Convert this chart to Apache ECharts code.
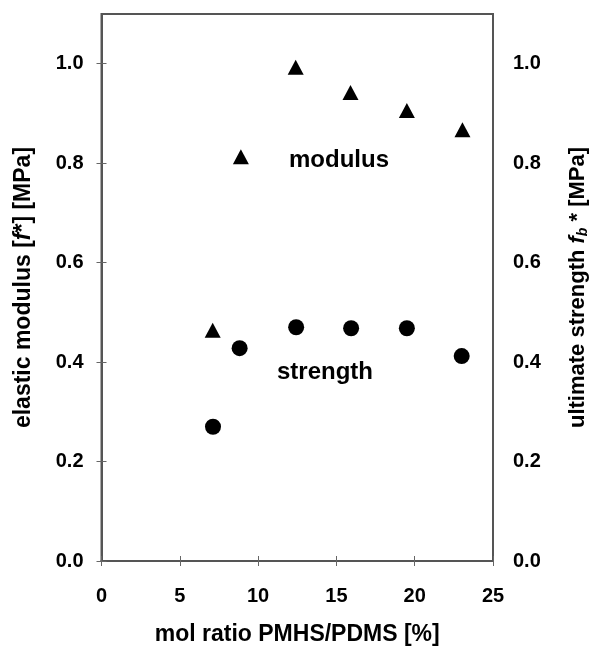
<!DOCTYPE html>
<html>
<head>
<meta charset="utf-8">
<script src="https://cdn.jsdelivr.net/npm/echarts@6/dist/echarts.min.js"></script>
<style>
html,body{margin:0;padding:0;background:#fff;}
#chart{width:589px;height:656px;}
</style>
</head>
<body>
<div id="chart"></div>
<script>
const modulusX = [7.1, 8.9, 12.4, 15.9, 19.5, 23.05];
const modulusY = [0.464, 0.813, 0.993, 0.942, 0.906, 0.867];
const strengthX = [7.12, 8.82, 12.43, 15.94, 19.5, 23.0];
const strengthY = [0.270, 0.428, 0.470, 0.468, 0.468, 0.412];
const xTicks = [0, 5, 10, 15, 20, 25];
const yTicks = [0.0, 0.2, 0.4, 0.6, 0.8, 1.0];

const FONT = '"Liberation Sans", Arial, Helvetica, sans-serif';
const chart = echarts.init(document.getElementById('chart'), null, {renderer: 'canvas'});

const yAxisCommon = {
  type: 'value', min: 0, max: 1.1, interval: 0.2,
  axisLine: {show: true, lineStyle: {color: '#555', width: 2}},
  axisTick: {show: true, inside: true, length: 5, lineStyle: {color: '#666', width: 1}},
  splitLine: {show: false},
  axisLabel: {show: true, showMaxLabel: false, color: '#000', fontFamily: FONT, fontWeight: 'bold', fontSize: 20,
    formatter: v => yTicks.some(t => Math.abs(t - v) < 1e-6) ? v.toFixed(1) : ''},
  nameLocation: 'middle', nameRotate: 90,
};

chart.setOption({
  animation: false,
  backgroundColor: '#fff',
  grid: {left: 101.5, right: 96, top: 14, bottom: 95, show: true, borderColor: '#555', borderWidth: 2,
    containLabel: false, outerBoundsMode: 'none'},
  xAxis: [{
    type: 'value', min: 0, max: 25, interval: 5, position: 'bottom',
    axisLine: {show: true, lineStyle: {color: '#555', width: 2}},
    axisTick: {show: true, inside: true, length: 5, lineStyle: {color: '#666', width: 1}},
    splitLine: {show: false},
    axisLabel: {color: '#000', fontFamily: FONT, fontWeight: 'bold', fontSize: 20, margin: 25,
      formatter: v => xTicks.includes(v) ? String(v) : ''},
    name: 'mol ratio PMHS/PDMS [%]', nameLocation: 'middle', nameGap: 62,
    nameTextStyle: {color: '#000', fontFamily: FONT, fontWeight: 'bold', fontSize: 23}
  }, {
    type: 'value', min: 0, max: 25, interval: 5, position: 'top',
    axisLine: {show: true, lineStyle: {color: '#555', width: 2}},
    axisTick: {show: true, inside: true, length: 5, lineStyle: {color: '#666', width: 1}},
    splitLine: {show: false}, axisLabel: {show: false}
  }],
  yAxis: [Object.assign({}, yAxisCommon, {
    position: 'left',
    axisLabel: Object.assign({}, yAxisCommon.axisLabel, {margin: 18}),
    name: '{n|elastic modulus [}{i|f}{n|*] [MPa]}', nameGap: 66,
    nameTextStyle: {rich: {
      n: {color: '#000', fontFamily: FONT, fontWeight: 'bold', fontSize: 23},
      i: {color: '#000', fontFamily: FONT, fontWeight: 'bold', fontStyle: 'italic', fontSize: 23}
    }}
  }), Object.assign({}, yAxisCommon, {
    position: 'right',
    axisLabel: Object.assign({}, yAxisCommon.axisLabel, {margin: 20}),
    name: '{n|ultimate strength }{i|f}{s|b}{n| * [MPa]}', nameGap: 73,
    nameTextStyle: {rich: {
      n: {color: '#000', fontFamily: FONT, fontWeight: 'bold', fontSize: 22, verticalAlign: 'middle'},
      i: {color: '#000', fontFamily: FONT, fontWeight: 'bold', fontStyle: 'italic', fontSize: 22},
      s: {color: '#000', fontFamily: FONT, fontWeight: 'bold', fontStyle: 'italic', fontSize: 14, verticalAlign: 'bottom', padding: [10, 0, 0, 0]}
    }}
  })],
  graphic: [
    {type: 'text', left: 289, top: 148, style: {text: 'modulus', fill: '#000', font: 'bold 24px ' + FONT}},
    {type: 'text', left: 277, top: 360, style: {text: 'strength', fill: '#000', font: 'bold 24px ' + FONT}}
  ],
  series: [{
    name: 'modulus', type: 'scatter', symbol: 'triangle', symbolSize: [16, 15],
    itemStyle: {color: '#000', opacity: 1},
    data: modulusX.map((x, i) => [x, modulusY[i]])
  }, {
    name: 'strength', type: 'scatter', symbol: 'circle', symbolSize: 16,
    itemStyle: {color: '#000', opacity: 1},
    data: strengthX.map((x, i) => [x, strengthY[i]])
  }]
});
</script>
</body>
</html>
